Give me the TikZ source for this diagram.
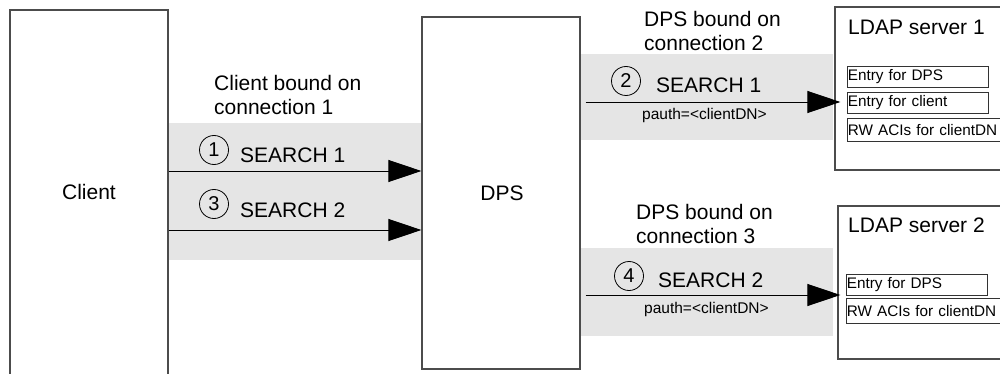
\documentclass[tikz,border=0pt]{standalone}
\usepackage{fontspec}
\setmainfont{Liberation Sans}
\usetikzlibrary{arrows.meta}
\begin{document}
\begin{tikzpicture}[x=1pt,y=-1pt,
  box/.style={draw=black!70, line width=1.2pt, inner sep=0, rectangle},
  band/.style={fill=black!10, draw=none},
  arr/.style={draw=black, line width=0.9pt, -{Triangle[length=33pt,width=22pt]}},
  big/.style={font=\fontsize{21}{24}\selectfont, inner sep=0},
  small/.style={font=\fontsize{15.5}{18}\selectfont, inner sep=0},
  num/.style={circle, draw=black, line width=0.8pt, minimum size=29pt, inner sep=0, font=\fontsize{20}{20}\selectfont},
  entry/.style={draw=black!80, line width=0.8pt, anchor=north west, inner xsep=0.5pt, inner ysep=0pt, align=left, font=\fontsize{15.3}{18}\selectfont}
]
\useasboundingbox (0,0) rectangle (1000,374);
\clip (0,0) rectangle (1000,374);

% shaded connection bands
\fill[band] (168,123) rectangle (421,260);
\fill[band] (581,54) rectangle (833,140);
\fill[band] (581,248) rectangle (833,336);

% main boxes
\node[box, minimum width=158pt, minimum height=390pt] (client) at (89,205) {};
\node[box, minimum width=158pt, minimum height=352pt] (dps) at (501,193) {};
\node[box, minimum width=205pt, minimum height=163pt] (ldap1) at (937.5,88.5) {};
\node[box, minimum width=202pt, minimum height=153pt] (ldap2) at (939,282.5) {};

\node[big] (clientlbl) at (89,192) {Client};
\node[big] (dpslbl) at (502,193) {DPS};
\node[big, anchor=base west] (l1lbl) at (848,35) {LDAP server 1};
\node[big, anchor=base west] (l2lbl) at (848,232) {LDAP server 2};

% entries
\node[entry, text width=140pt, minimum height=21pt] (e1) at (847,66) {Entry for DPS};
\node[entry, text width=165pt, minimum height=21pt, text width=140pt] (e2) at (847,92) {Entry for client};
\node[entry, text width=165pt, minimum height=23pt] (e3) at (847,118) {RW ACIs for clientDN};
\node[entry, text width=140pt, minimum height=21pt] (e4) at (846,274) {Entry for DPS};
\node[entry, text width=165pt, minimum height=25pt] (e5) at (846,298) {RW ACIs for clientDN};

% connection labels
\node[big, anchor=base west] (cb1) at (214,91) {Client bound on};
\node[big, anchor=base west] (cb1b) at (214,115) {connection 1};
\node[big, anchor=base west] (db2) at (644,27) {DPS bound on};
\node[big, anchor=base west] (db2b) at (644,51) {connection 2};
\node[big, anchor=base west] (db3) at (636,219) {DPS bound on};
\node[big, anchor=base west] (db3b) at (636,243) {connection 3};

% step numbers and operation labels
\node[num] (n1) at (214,150) {1};
\node[big, anchor=base west] (s1) at (240,163) {SEARCH 1};
\node[num] (n3) at (214,204) {3};
\node[big, anchor=base west] (s2) at (240,217) {SEARCH 2};
\node[num] (n2) at (626,81) {2};
\node[big, anchor=base west] (s3) at (656,93) {SEARCH 1};
\node[num] (n4) at (629,276) {4};
\node[big, anchor=base west] (s4) at (658,287) {SEARCH 2};
\node[small, anchor=base west] (p1) at (642,120) {pauth=<clientDN>};
\node[small, anchor=base west] (p2) at (644,313) {pauth=<clientDN>};

% arrows
\coordinate (y1) at (0,171);
\coordinate (y2) at (0,230);
\coordinate (y3) at (0,102);
\coordinate (y4) at (0,295);
\draw[arr] (client.east |- y1) -- (dps.west |- y1);
\draw[arr] (client.east |- y2) -- (dps.west |- y2);
\draw[arr, shorten <=5pt] (dps.east |- y3) -- ([xshift=6pt]ldap1.west |- y3);
\draw[arr, shorten <=5pt] (dps.east |- y4) -- ([xshift=3pt]ldap2.west |- y4);
\end{tikzpicture}
\end{document}
